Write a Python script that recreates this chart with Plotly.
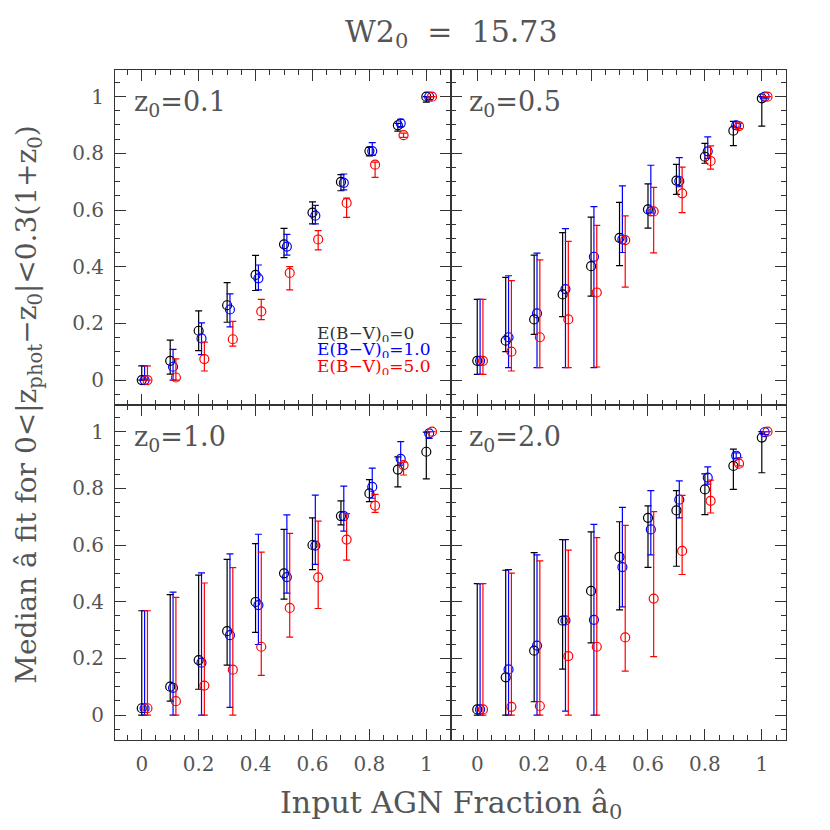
import plotly.graph_objects as go
from plotly.subplots import make_subplots

# input AGN fraction
a0 = [0, 0.1, 0.2, 0.3, 0.4, 0.5, 0.6, 0.7, 0.8, 0.9, 1.0]

# panel z0=0.1
z01_e0 = [0.0, 0.068, 0.174, 0.264, 0.371, 0.479, 0.591, 0.699, 0.808, 0.899, 1.0]
z01_e0_lo = [0.0, 0.021, 0.104, 0.204, 0.316, 0.432, 0.551, 0.668, 0.791, 0.878, 0.981]
z01_e0_hi = [0.05, 0.141, 0.244, 0.344, 0.44, 0.535, 0.629, 0.725, 0.821, 0.906, 1.0]
z01_e1 = [0.0, 0.047, 0.147, 0.249, 0.359, 0.471, 0.58, 0.696, 0.808, 0.906, 1.0]
z01_e1_lo = [0.0, 0.0, 0.09, 0.188, 0.318, 0.441, 0.551, 0.671, 0.793, 0.894, 0.99]
z01_e1_hi = [0.05, 0.108, 0.202, 0.304, 0.406, 0.514, 0.616, 0.727, 0.838, 0.92, 1.0]
z01_e5 = [0.0, 0.009, 0.074, 0.144, 0.242, 0.378, 0.496, 0.625, 0.76, 0.864, 1.0]
z01_e5_lo = [0.0, 0.0, 0.032, 0.12, 0.213, 0.318, 0.459, 0.574, 0.715, 0.856, 1.0]
z01_e5_hi = [0.05, 0.075, 0.134, 0.207, 0.285, 0.4, 0.527, 0.642, 0.769, 0.871, 1.0]

# panel z0=0.5
z05_e0 = [0.068, 0.139, 0.214, 0.302, 0.402, 0.502, 0.602, 0.704, 0.788, 0.88, 0.994]
z05_e0_lo = [0.02, 0.1, 0.161, 0.224, 0.296, 0.404, 0.536, 0.655, 0.765, 0.827, 0.896]
z05_e0_hi = [0.285, 0.362, 0.441, 0.52, 0.575, 0.627, 0.692, 0.761, 0.835, 0.913, 1.0]
z05_e1 = [0.068, 0.151, 0.235, 0.321, 0.435, 0.496, 0.595, 0.702, 0.807, 0.899, 1.0]
z05_e1_lo = [0.02, 0.044, 0.044, 0.044, 0.044, 0.45, 0.59, 0.682, 0.782, 0.892, 0.995]
z05_e1_hi = [0.285, 0.368, 0.448, 0.534, 0.612, 0.685, 0.758, 0.785, 0.858, 0.911, 1.0]
z05_e5 = [0.068, 0.1, 0.151, 0.214, 0.309, 0.494, 0.595, 0.659, 0.773, 0.896, 1.0]
z05_e5_lo = [0.02, 0.032, 0.044, 0.044, 0.046, 0.328, 0.449, 0.591, 0.744, 0.887, 1.0]
z05_e5_hi = [0.285, 0.351, 0.424, 0.489, 0.546, 0.579, 0.68, 0.751, 0.826, 0.906, 1.0]

# panel z0=1.0
z10_e0 = [0.024, 0.1, 0.194, 0.296, 0.399, 0.5, 0.6, 0.702, 0.782, 0.866, 0.929]
z10_e0_lo = [0.0, 0.049, 0.091, 0.176, 0.292, 0.409, 0.513, 0.671, 0.753, 0.805, 0.833]
z10_e0_hi = [0.368, 0.425, 0.494, 0.549, 0.605, 0.655, 0.696, 0.756, 0.831, 0.911, 0.998]
z10_e1 = [0.024, 0.096, 0.185, 0.282, 0.388, 0.487, 0.598, 0.702, 0.805, 0.904, 0.994]
z10_e1_lo = [0.0, 0.0, 0.0, 0.027, 0.249, 0.43, 0.532, 0.649, 0.765, 0.882, 0.976]
z10_e1_hi = [0.368, 0.434, 0.502, 0.569, 0.638, 0.706, 0.776, 0.808, 0.871, 0.965, 1.0]
z10_e5 = [0.024, 0.049, 0.104, 0.16, 0.241, 0.378, 0.486, 0.619, 0.739, 0.882, 1.0]
z10_e5_lo = [0.0, 0.0, 0.0, 0.0, 0.14, 0.275, 0.376, 0.547, 0.715, 0.847, 1.0]
z10_e5_hi = [0.368, 0.415, 0.466, 0.52, 0.575, 0.641, 0.684, 0.711, 0.779, 0.892, 1.0]

# panel z0=2.0
z20_e0 = [0.02, 0.133, 0.227, 0.333, 0.438, 0.558, 0.696, 0.722, 0.796, 0.879, 0.979]
z20_e0_lo = [0.0, 0.0, 0.047, 0.162, 0.255, 0.371, 0.521, 0.525, 0.707, 0.796, 0.855]
z20_e0_hi = [0.464, 0.511, 0.573, 0.619, 0.646, 0.682, 0.738, 0.792, 0.851, 0.938, 1.0]
z20_e1 = [0.02, 0.161, 0.245, 0.334, 0.336, 0.522, 0.655, 0.76, 0.838, 0.915, 0.998]
z20_e1_lo = [0.0, 0.0, 0.0, 0.014, 0.0, 0.382, 0.565, 0.696, 0.815, 0.906, 0.99]
z20_e1_hi = [0.464, 0.513, 0.565, 0.619, 0.673, 0.733, 0.792, 0.826, 0.876, 0.925, 1.0]
z20_e5 = [0.02, 0.029, 0.032, 0.208, 0.241, 0.274, 0.411, 0.579, 0.756, 0.887, 1.0]
z20_e5_lo = [0.0, 0.0, 0.0, 0.0, 0.0, 0.155, 0.206, 0.496, 0.713, 0.879, 1.0]
z20_e5_hi = [0.464, 0.501, 0.544, 0.582, 0.626, 0.669, 0.718, 0.775, 0.829, 0.908, 1.0]

panel_labels = ["z<sub>0</sub>=0.1", "z<sub>0</sub>=0.5", "z<sub>0</sub>=1.0", "z<sub>0</sub>=2.0"]
ebv_labels = ["E(B\u2212V)<sub>0</sub>=0", "E(B\u2212V)<sub>0</sub>=1.0", "E(B\u2212V)<sub>0</sub>=5.0"]
colors = ["#000000", "#0000ff", "#ff0000"]
offsets = [0.0, 0.01, 0.02]

panels = [
    [(z01_e0, z01_e0_lo, z01_e0_hi), (z01_e1, z01_e1_lo, z01_e1_hi), (z01_e5, z01_e5_lo, z01_e5_hi)],
    [(z05_e0, z05_e0_lo, z05_e0_hi), (z05_e1, z05_e1_lo, z05_e1_hi), (z05_e5, z05_e5_lo, z05_e5_hi)],
    [(z10_e0, z10_e0_lo, z10_e0_hi), (z10_e1, z10_e1_lo, z10_e1_hi), (z10_e5, z10_e5_lo, z10_e5_hi)],
    [(z20_e0, z20_e0_lo, z20_e0_hi), (z20_e1, z20_e1_lo, z20_e1_hi), (z20_e5, z20_e5_lo, z20_e5_hi)],
]

FONT = "DejaVu Serif"
GREY = "#555555"

fig = make_subplots(rows=2, cols=2, shared_xaxes=True, shared_yaxes=True,
                    horizontal_spacing=0, vertical_spacing=0)

for p, series in enumerate(panels):
    row, col = p // 2 + 1, p % 2 + 1
    # dotted guide lines
    fig.add_vline(x=0.5, line=dict(color="#bbbbbb", width=1, dash="dot"), row=row, col=col)
    fig.add_hline(y=0.5, line=dict(color="#bbbbbb", width=1, dash="dot"), row=row, col=col)
    for s, (med, lo, hi) in enumerate(series):
        fig.add_trace(
            go.Scatter(
                x=[v + offsets[s] for v in a0],
                y=med,
                mode="markers",
                marker=dict(symbol="circle-open", size=9, color=colors[s],
                            line=dict(width=1.2, color=colors[s])),
                error_y=dict(type="data", symmetric=False,
                             array=[h - m for h, m in zip(hi, med)],
                             arrayminus=[m - l for m, l in zip(med, lo)],
                             color=colors[s], thickness=1.2, width=3.5),
                showlegend=False,
            ),
            row=row, col=col,
        )
    fig.add_annotation(text=panel_labels[p], xref="x domain", yref="y domain",
                       x=0.05, y=0.9, xanchor="left", yanchor="middle",
                       showarrow=False, font=dict(family=FONT, size=27, color=GREY),
                       row=row, col=col)

# legend text in first panel
for s, lab in enumerate(ebv_labels):
    fig.add_annotation(text=lab, x=0.61, y=[0.162, 0.104, 0.046][s], xref="x", yref="y",
                       xanchor="left", yanchor="middle", showarrow=False, height=15,
                       font=dict(family=FONT, size=17, color=colors[s] if s else "#333333"))

axis_common = dict(
    showline=True, linecolor="#333333", linewidth=1, mirror="allticks",
    ticks="inside", ticklen=11, tickwidth=1, tickcolor="#333333",
    minor=dict(dtick=0.05, ticks="inside", ticklen=5, tickcolor="#333333", tickwidth=1),
    showgrid=False, zeroline=False, tick0=0, dtick=0.2,
    tickfont=dict(family=FONT, size=20, color=GREY),
)
fig.update_xaxes(range=[-0.094, 1.085], **axis_common)
fig.update_yaxes(range=[-0.088, 1.094], **axis_common)
fig.update_xaxes(ticklabelstandoff=6, row=2)
fig.update_yaxes(ticklabelstandoff=6, col=1)

fig.add_annotation(text="W2<sub>0</sub>&nbsp; = &nbsp;15.73", xref="paper", yref="paper",
                   x=0.5, y=1.055, xanchor="center", yanchor="middle", showarrow=False,
                   font=dict(family=FONT, size=30, color=GREY))
fig.add_annotation(text="Input AGN Fraction \u00e2<sub>0</sub>", xref="paper", yref="paper",
                   x=0.5, y=-0.097, xanchor="center", yanchor="middle", showarrow=False,
                   font=dict(family=FONT, size=30, color=GREY))
fig.add_annotation(text="Median \u00e2 fit for 0&lt;|z<sub>phot</sub>\u2212z<sub>0</sub>|&lt;0.3(1+z<sub>0</sub>)",
                   xref="paper", yref="paper", x=-0.13, y=0.5, textangle=-90,
                   xanchor="center", yanchor="middle", showarrow=False,
                   font=dict(family=FONT, size=28, color=GREY))

fig.update_layout(
    width=822, height=822,
    margin=dict(l=107, r=44, t=62, b=90),
    plot_bgcolor="white", paper_bgcolor="white",
)

fig.write_html("out.html")
